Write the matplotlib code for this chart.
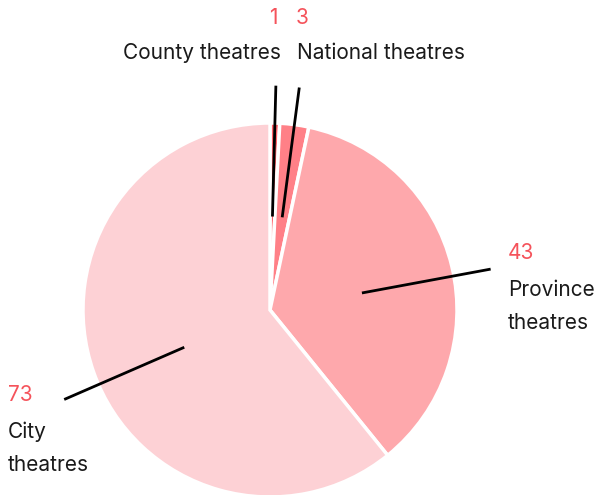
import numpy as np
from matplotlib import pyplot as plt

categories = ['County theatres', 'National theatres', 'Province theatres', 'City theatres']
values = [1, 3, 43, 73]
colors = ['#ff6068', '#ff8087', '#fea8ac', '#fdd1d5']
number_color = '#f5535b'

plt.rcParams['font.family'] = ['Inter', 'DejaVu Sans']

W, H = 597, 495
fig = plt.figure(figsize=(W / 100, H / 100), dpi=100)
ax = fig.add_axes([0, 0, 1, 1])

cx, cy, R = 270, H - 310, 187
wedges, _ = ax.pie(values, colors=colors, startangle=90, counterclock=False,
                   center=(cx, cy), radius=R, frame=True,
                   wedgeprops=dict(edgecolor='white', linewidth=2.5))
ax.set_xlim(0, W)
ax.set_ylim(0, H)
ax.set_aspect('equal')
ax.axis('off')

# leader lines from the middle of each wedge
offsets = [0, 0, -3, 4]
for w, off in zip(wedges, offsets):
    ang = np.deg2rad((w.theta1 + w.theta2) / 2 + off)
    r_in, r_out = 0.5 * R, 1.2 * R
    ax.plot([cx + r_in * np.cos(ang), cx + r_out * np.cos(ang)],
            [cy + r_in * np.sin(ang), cy + r_out * np.sin(ang)],
            color='black', lw=2, solid_capstyle='butt')

fs = 15
txt = '#1a1a1a'
# County
ax.text(273, H - 18, str(values[0]), color=number_color, fontsize=fs, ha='center', va='center')
ax.text(281, H - 53, 'County theatres', fontsize=fs, ha='right', va='center', color=txt)
# National
ax.text(296, H - 18, str(values[1]), color=number_color, fontsize=fs, ha='left', va='center')
ax.text(297, H - 53, 'National theatres', fontsize=fs, ha='left', va='center', color=txt)
# Province
ax.text(508, H - 253, str(values[2]), color=number_color, fontsize=fs, ha='left', va='center')
ax.text(508, H - 290, 'Province', fontsize=fs, ha='left', va='center', color=txt)
ax.text(508, H - 323, 'theatres', fontsize=fs, ha='left', va='center', color=txt)
# City
ax.text(8, H - 395, str(values[3]), color=number_color, fontsize=fs, ha='left', va='center')
ax.text(8, H - 432, 'City', fontsize=fs, ha='left', va='center', color=txt)
ax.text(8, H - 465, 'theatres', fontsize=fs, ha='left', va='center', color=txt)

fig.savefig('out.png', dpi=100)
